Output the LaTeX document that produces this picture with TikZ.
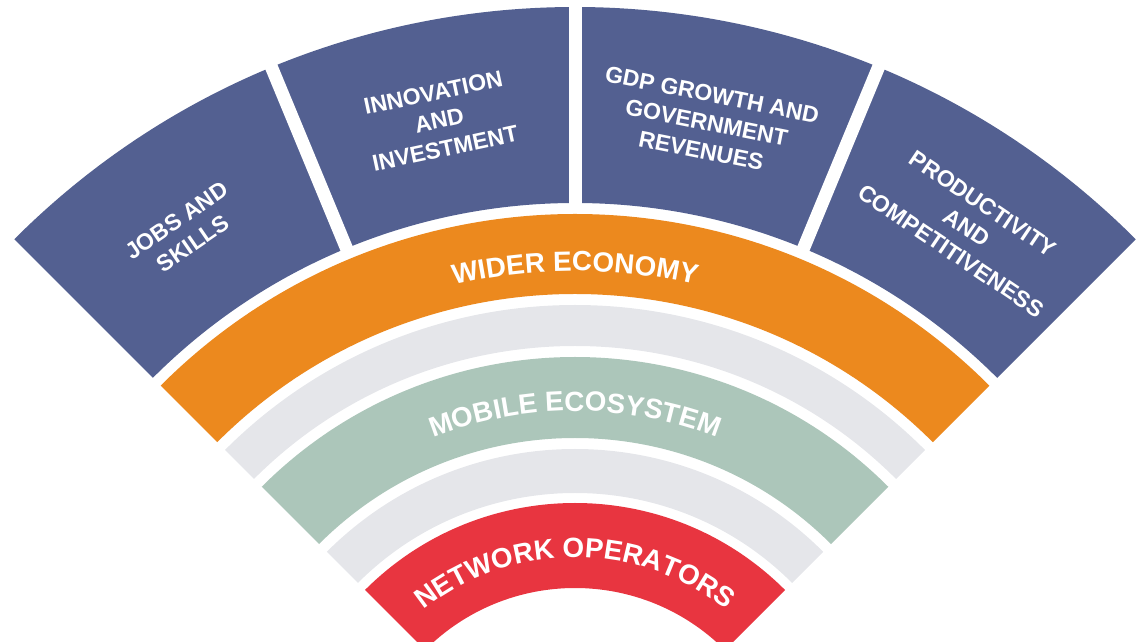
\documentclass[tikz,border=0pt]{standalone}
\usepackage{fontspec}
\setmainfont{Liberation Sans}
\usetikzlibrary{decorations.text}
\definecolor{fanblue}{RGB}{83,96,145}
\definecolor{fanorange}{RGB}{236,137,30}
\definecolor{fangray}{RGB}{229,230,234}
\definecolor{fangreen}{RGB}{172,198,186}
\definecolor{fanred}{RGB}{232,53,64}

\begin{document}
\begin{tikzpicture}[x=1pt, y=1pt,
    seglabel/.style={text=white, align=center, inner sep=0pt, font=\fontsize{23}{28.5}\selectfont\bfseries},
    bandlabel/.style={decorate, decoration={text along path, text align=center, text color=white,
        text={|\fontsize{27.8}{30}\selectfont\bfseries|#1}}}]

\useasboundingbox (-575,158) rectangle (564,800);
\clip (-575,158) rectangle (564,800);

\fill[fanblue] (135:793) arc[start angle=135, end angle=45, radius=793]
    -- (45:597) arc[start angle=45, end angle=135, radius=597] -- cycle;
\draw[white, line width=13] (112.5:580) -- (112.5:810);
\draw[white, line width=13] (90:580) -- (90:810);
\draw[white, line width=13] (67.5:580) -- (67.5:810);

\fill[fanorange] (135:586) arc[start angle=135, end angle=45, radius=586]
    -- (45:506) arc[start angle=45, end angle=135, radius=506] -- cycle;
\fill[fangray] (135:495) arc[start angle=135, end angle=45, radius=495]
    -- (45:454) arc[start angle=45, end angle=135, radius=454] -- cycle;
\fill[fangreen] (135:443) arc[start angle=135, end angle=45, radius=443]
    -- (45:362) arc[start angle=45, end angle=135, radius=362] -- cycle;
\fill[fangray] (135:351) arc[start angle=135, end angle=45, radius=351]
    -- (45:307) arc[start angle=45, end angle=135, radius=307] -- cycle;
\fill[fanred] (135:297) arc[start angle=135, end angle=45, radius=297]
    -- (45:212) arc[start angle=45, end angle=135, radius=212] -- cycle;

\path[bandlabel={WIDER ECONOMY}] (135:529) arc[start angle=135, end angle=45, radius=529];
\path[bandlabel={MOBILE ECOSYSTEM}] (135:389) arc[start angle=135, end angle=45, radius=389];
\path[bandlabel={NETWORK OPERATORS}] (135:243) arc[start angle=135, end angle=45, radius=243];

\node[seglabel, rotate=34.5] (jobs) at (124.5:689) {JOBS AND\\SKILLS};
\node[seglabel, rotate=12] (innovation) at (101.3:693) {INNOVATION\\AND\\INVESTMENT};
\node[seglabel, rotate=-11.25] (gdp) at (79:690) {GDP GROWTH AND\\GOVERNMENT\\REVENUES};
\node[seglabel, rotate=-34] (productivity) at (55.6:694) {PRODUCTIVITY\\AND\\COMPETITIVENESS};
\end{tikzpicture}
\end{document}
